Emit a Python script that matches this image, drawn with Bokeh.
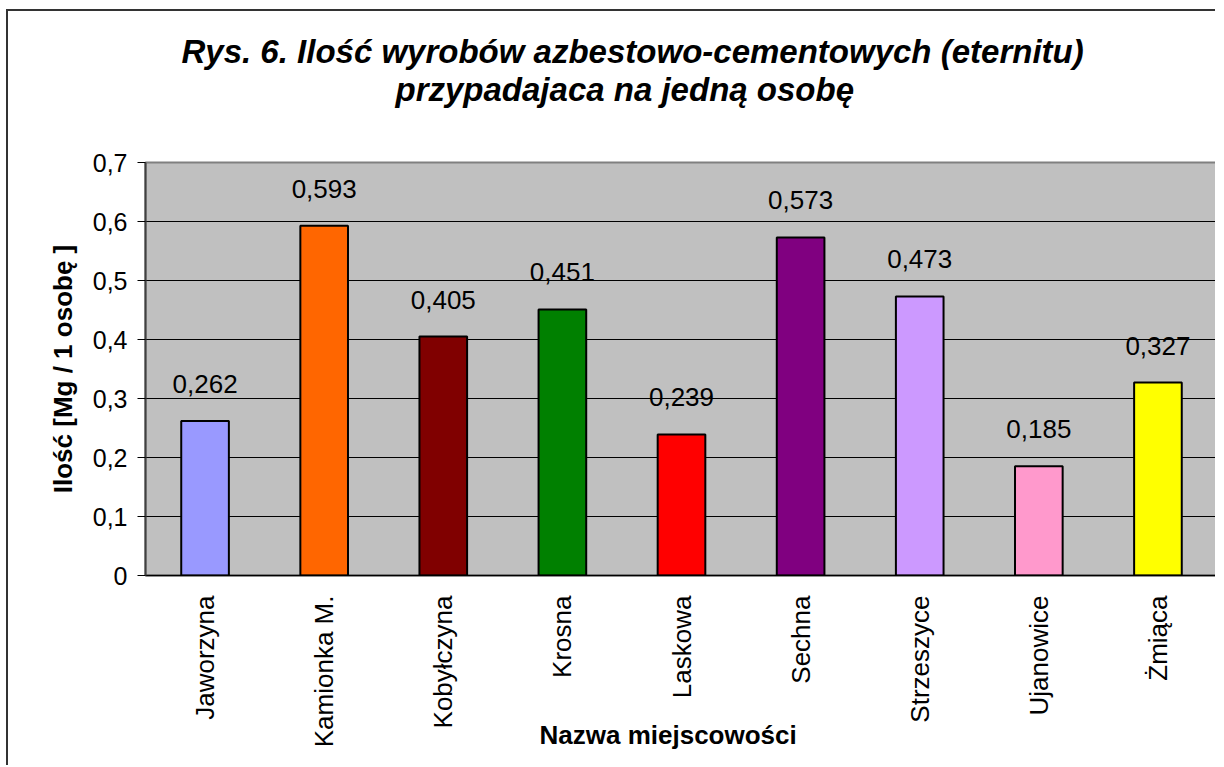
import math
from bokeh.plotting import figure
from bokeh.models import FactorRange, Range1d, FixedTicker, Title, ColumnDataSource
from bokeh.core.properties import value
from bokeh.embed import file_html
from bokeh.resources import INLINE

# ---- data ----
categories = ["Jaworzyna", "Kamionka M.", "Kobyłczyna", "Krosna", "Laskowa",
              "Sechna", "Strzeszyce", "Ujanowice", "Żmiąca"]
values = [0.262, 0.593, 0.405, 0.451, 0.239, 0.573, 0.473, 0.185, 0.327]
colors = ["#9999FF", "#FF6600", "#800000", "#008000", "#FF0000",
          "#800080", "#CC99FF", "#FF99CC", "#FFFF00"]
y_ticks = [0, 0.1, 0.2, 0.3, 0.4, 0.5, 0.6, 0.7]
y_tick_labels = ["0", "0,1", "0,2", "0,3", "0,4", "0,5", "0,6", "0,7"]
title_line1 = "Rys. 6. Ilość wyrobów azbestowo-cementowych (eternitu)"
title_line2 = "przypadajaca na jedną osobę"
y_title = "Ilość [Mg / 1 osobę ]"
x_title = "Nazwa miejscowości"

FONT = "Liberation Sans"

value_labels = [f"{v:.3f}".replace(".", ",") for v in values]
src = ColumnDataSource(dict(cat=categories, val=values, color=colors, lbl=value_labels))

p = figure(
    title=None,
    x_range=FactorRange(factors=categories, range_padding=0),
    y_range=Range1d(0, 0.7),
    width=1209, height=756,
    output_backend="svg", toolbar_location=None,
    min_border_left=137, min_border_top=151, min_border_right=0, min_border_bottom=192,
)
p.margin = (9, 0, 0, 6)
p.styles = {"border-top": "2px solid #333333", "border-left": "2px solid #333333"}

p.background_fill_color = "#C0C0C0"
p.border_fill_color = "white"
p.outline_line_color = "#808080"
p.outline_line_width = 2

p.vbar(x="cat", top="val", width=0.4, fill_color="color", line_color="black",
       line_width=2, source=src)
p.text(x="cat", y="val", text="lbl", source=src, text_align="center",
       text_baseline="alphabetic", y_offset=-37, text_font_size="26px",
       text_font=value(FONT), text_color="black")

# grid
p.xgrid.grid_line_color = None
p.ygrid.grid_line_color = "black"
p.ygrid.grid_line_width = 1

# y axis
p.yaxis.ticker = FixedTicker(ticks=y_ticks)
p.yaxis.major_label_overrides = {t: l for t, l in zip(y_ticks, y_tick_labels)}
p.yaxis.minor_tick_line_color = None
p.yaxis.major_tick_out = 8
p.yaxis.major_tick_in = 0
p.yaxis.major_tick_line_color = "black"
p.yaxis.axis_line_color = "#404040"
p.yaxis.axis_line_width = 2
p.yaxis.major_label_standoff = 10
p.yaxis.major_label_text_font = FONT
p.yaxis.major_label_text_font_size = "25px"
p.yaxis.major_label_text_color = "black"
p.yaxis.axis_label = y_title
p.yaxis.axis_label_text_font = FONT
p.yaxis.axis_label_text_font_size = "26px"
p.yaxis.axis_label_text_font_style = "bold"
p.yaxis.axis_label_text_color = "black"
p.yaxis.axis_label_standoff = 12

# x axis
p.xaxis.major_tick_out = 0
p.xaxis.major_tick_in = 0
p.xaxis.axis_line_color = "black"
p.xaxis.axis_line_width = 1.5
p.xaxis.major_label_orientation = math.pi / 2
p.xaxis.major_label_standoff = 20
p.xaxis.major_label_text_font = FONT
p.xaxis.major_label_text_font_size = "26px"
p.xaxis.major_label_text_color = "black"

# titles
p.add_layout(Title(text=title_line2, align="left", offset=250, standoff=-184,
                   vertical_align="top",
                   text_font=FONT, text_font_size="33px", text_font_style="bold italic",
                   text_color="black"), "above")
p.add_layout(Title(text=title_line1, align="left", offset=36, standoff=-260,
                   vertical_align="top",
                   text_font=FONT, text_font_size="33px", text_font_style="bold italic",
                   text_color="black"), "above")
p.add_layout(Title(text=x_title, align="left", offset=394, standoff=-62,
                   vertical_align="top",
                   text_font=FONT, text_font_size="26px", text_font_style="bold",
                   text_color="black"), "below")

open("out.html", "w").write(file_html(p, INLINE))
